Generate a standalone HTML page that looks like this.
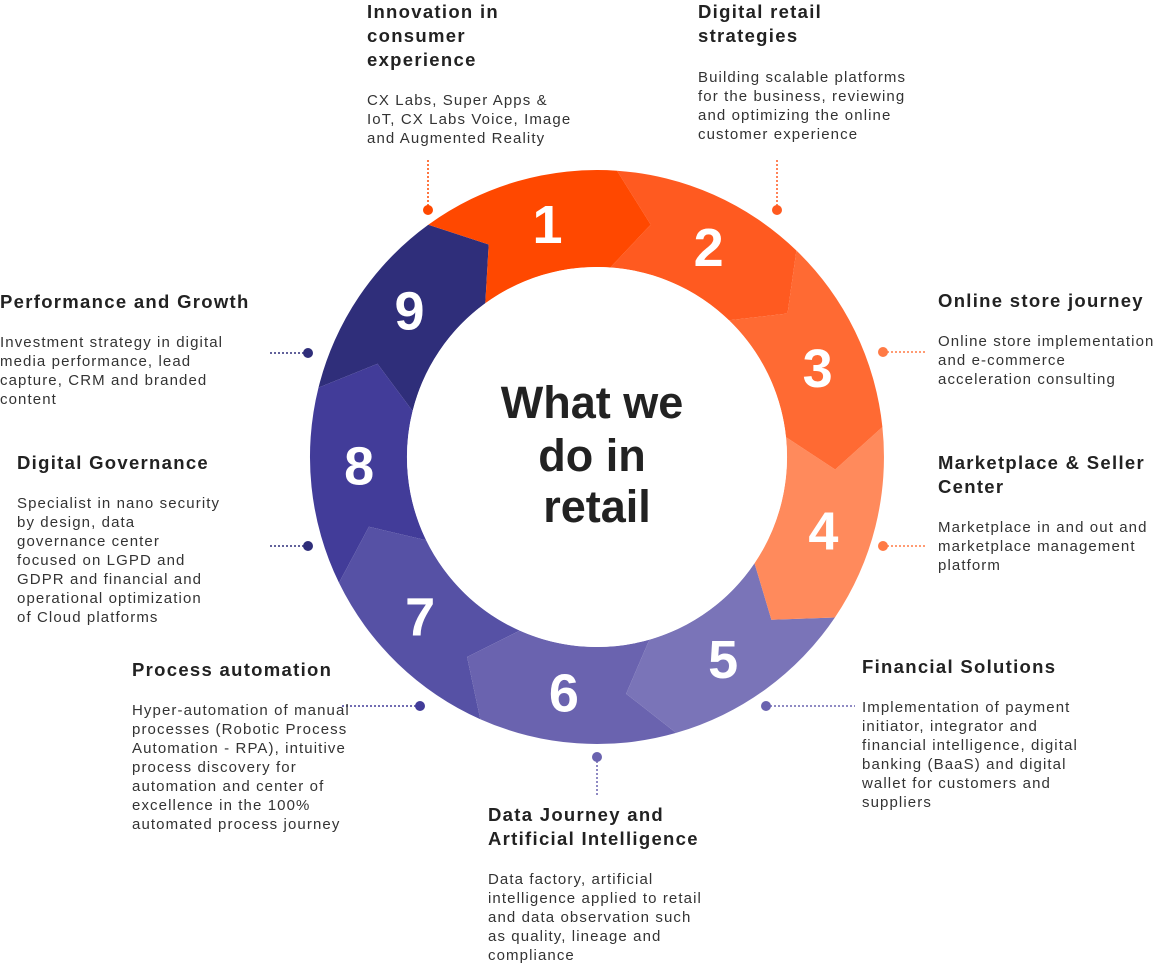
<!DOCTYPE html>
<html><head><meta charset="utf-8">
<style>
body{margin:0;width:1168px;height:967px;background:#fff;position:relative;overflow:hidden;font-family:"Liberation Sans",sans-serif;color:#222;}
.b{position:absolute;}
.b h3{margin:0;font-size:18.5px;line-height:24px;font-weight:bold;color:#222;letter-spacing:1.3px;}
.b p{margin:19px 0 0;font-size:15px;line-height:19px;color:#333;letter-spacing:1.1px;}
svg{position:absolute;left:0;top:0;}
</style></head><body>
<svg id="s" width="1168" height="967"></svg>
<div class="b" style="left:367px;top:0px;width:240px"><h3>Innovation in<br>consumer<br>experience</h3><p>CX Labs, Super Apps &amp;<br>IoT, CX Labs Voice, Image<br>and Augmented Reality</p></div>
<div class="b" style="left:698px;top:0px;width:250px"><h3>Digital retail<br>strategies</h3><p style="margin-top:20px">Building scalable platforms<br>for the business, reviewing<br>and optimizing the online<br>customer experience</p></div>
<div class="b" style="left:938px;top:289px;width:260px"><h3>Online store journey</h3><p>Online store implementation<br>and e-commerce<br>acceleration consulting</p></div>
<div class="b" style="left:938px;top:451px;width:260px"><h3>Marketplace &amp; Seller<br>Center</h3><p>Marketplace in and out and<br>marketplace management<br>platform</p></div>
<div class="b" style="left:862px;top:655px;width:290px"><h3>Financial Solutions</h3><p>Implementation of payment<br>initiator, integrator and<br>financial intelligence, digital<br>banking (BaaS) and digital<br>wallet for customers and<br>suppliers</p></div>
<div class="b" style="left:488px;top:803px;width:280px"><h3>Data Journey and<br>Artificial Intelligence</h3><p>Data factory, artificial<br>intelligence applied to retail<br>and data observation such<br>as quality, lineage and<br>compliance</p></div>
<div class="b" style="left:132px;top:658px;width:280px"><h3>Process automation</h3><p>Hyper-automation of manual<br>processes (Robotic Process<br>Automation - RPA), intuitive<br>process discovery for<br>automation and center of<br>excellence in the 100%<br>automated process journey</p></div>
<div class="b" style="left:17px;top:451px;width:260px"><h3>Digital Governance</h3><p>Specialist in nano security<br>by design, data<br>governance center<br>focused on LGPD and<br>GDPR and financial and<br>operational optimization<br>of Cloud platforms</p></div>
<div class="b" style="left:0px;top:290px;width:280px"><h3>Performance and Growth</h3><p>Investment strategy in digital<br>media performance, lead<br>capture, CRM and branded<br>content</p></div>
<script>
var s=document.getElementById('s'),cx=597,cy=457,R=287,r=190,h='';
var cols=['#ff4800','#ff5a20','#ff6a33','#ff8a5c','#7a74b8','#6a63af','#5651a5','#423c99','#2f2e7a'];
function p(a,rad){a=a*Math.PI/180;return (cx+rad*Math.cos(a)).toFixed(1)+','+(cy+rad*Math.sin(a)).toFixed(1);}
for(var i=8;i>=0;i--){var a0=-126+i*40,a1=a0+40,m=(R+r)/2;
h+='<path fill="'+cols[i]+'" d="M'+p(a0,R)+' A'+R+','+R+' 0 0 1 '+p(a1,R)+' L'+p(a1+9,m)+' L'+p(a1,r)+' A'+r+','+r+' 0 0 0 '+p(a0,r)+' L'+p(a0+9,m)+' Z"/>';}
h+='<circle cx="'+cx+'" cy="'+cy+'" r="'+r+'" fill="#fff"/>';
for(var i=0;i<9;i++){var a=(-102+i*40)*Math.PI/180;
h+='<text x="'+(cx+238*Math.cos(a)).toFixed(1)+'" y="'+(cy+238*Math.sin(a)+19).toFixed(1)+'" text-anchor="middle" font-family="Liberation Sans" font-weight="bold" font-size="54" fill="#fff">'+(i+1)+'</text>';}
h+='<text text-anchor="middle" font-family="Liberation Sans" font-weight="bold" font-size="45" fill="#222"><tspan x="592" y="418">What we</tspan><tspan x="592" y="471">do in</tspan><tspan x="597" y="522">retail</tspan></text>';
var L=[[428,210,428,160,'#ff4800'],[777,210,777,160,'#ff5a20'],[883,352,925,352,'#ff7a45'],[883,546,925,546,'#ff7a45'],[766,706,855,706,'#6a63af'],[597,757,597,795,'#6a63af'],[420,706,340,706,'#423c99'],[308,546,268,546,'#2f2e7a'],[308,353,268,353,'#2f2e7a']];
L.forEach(function(l){h+='<line x1="'+l[0]+'" y1="'+l[1]+'" x2="'+l[2]+'" y2="'+l[3]+'" stroke="'+l[4]+'" stroke-width="1.5" stroke-dasharray="2,2"/><circle cx="'+l[0]+'" cy="'+l[1]+'" r="5" fill="'+l[4]+'"/>';});
s.innerHTML=h;
</script>
</body></html>
